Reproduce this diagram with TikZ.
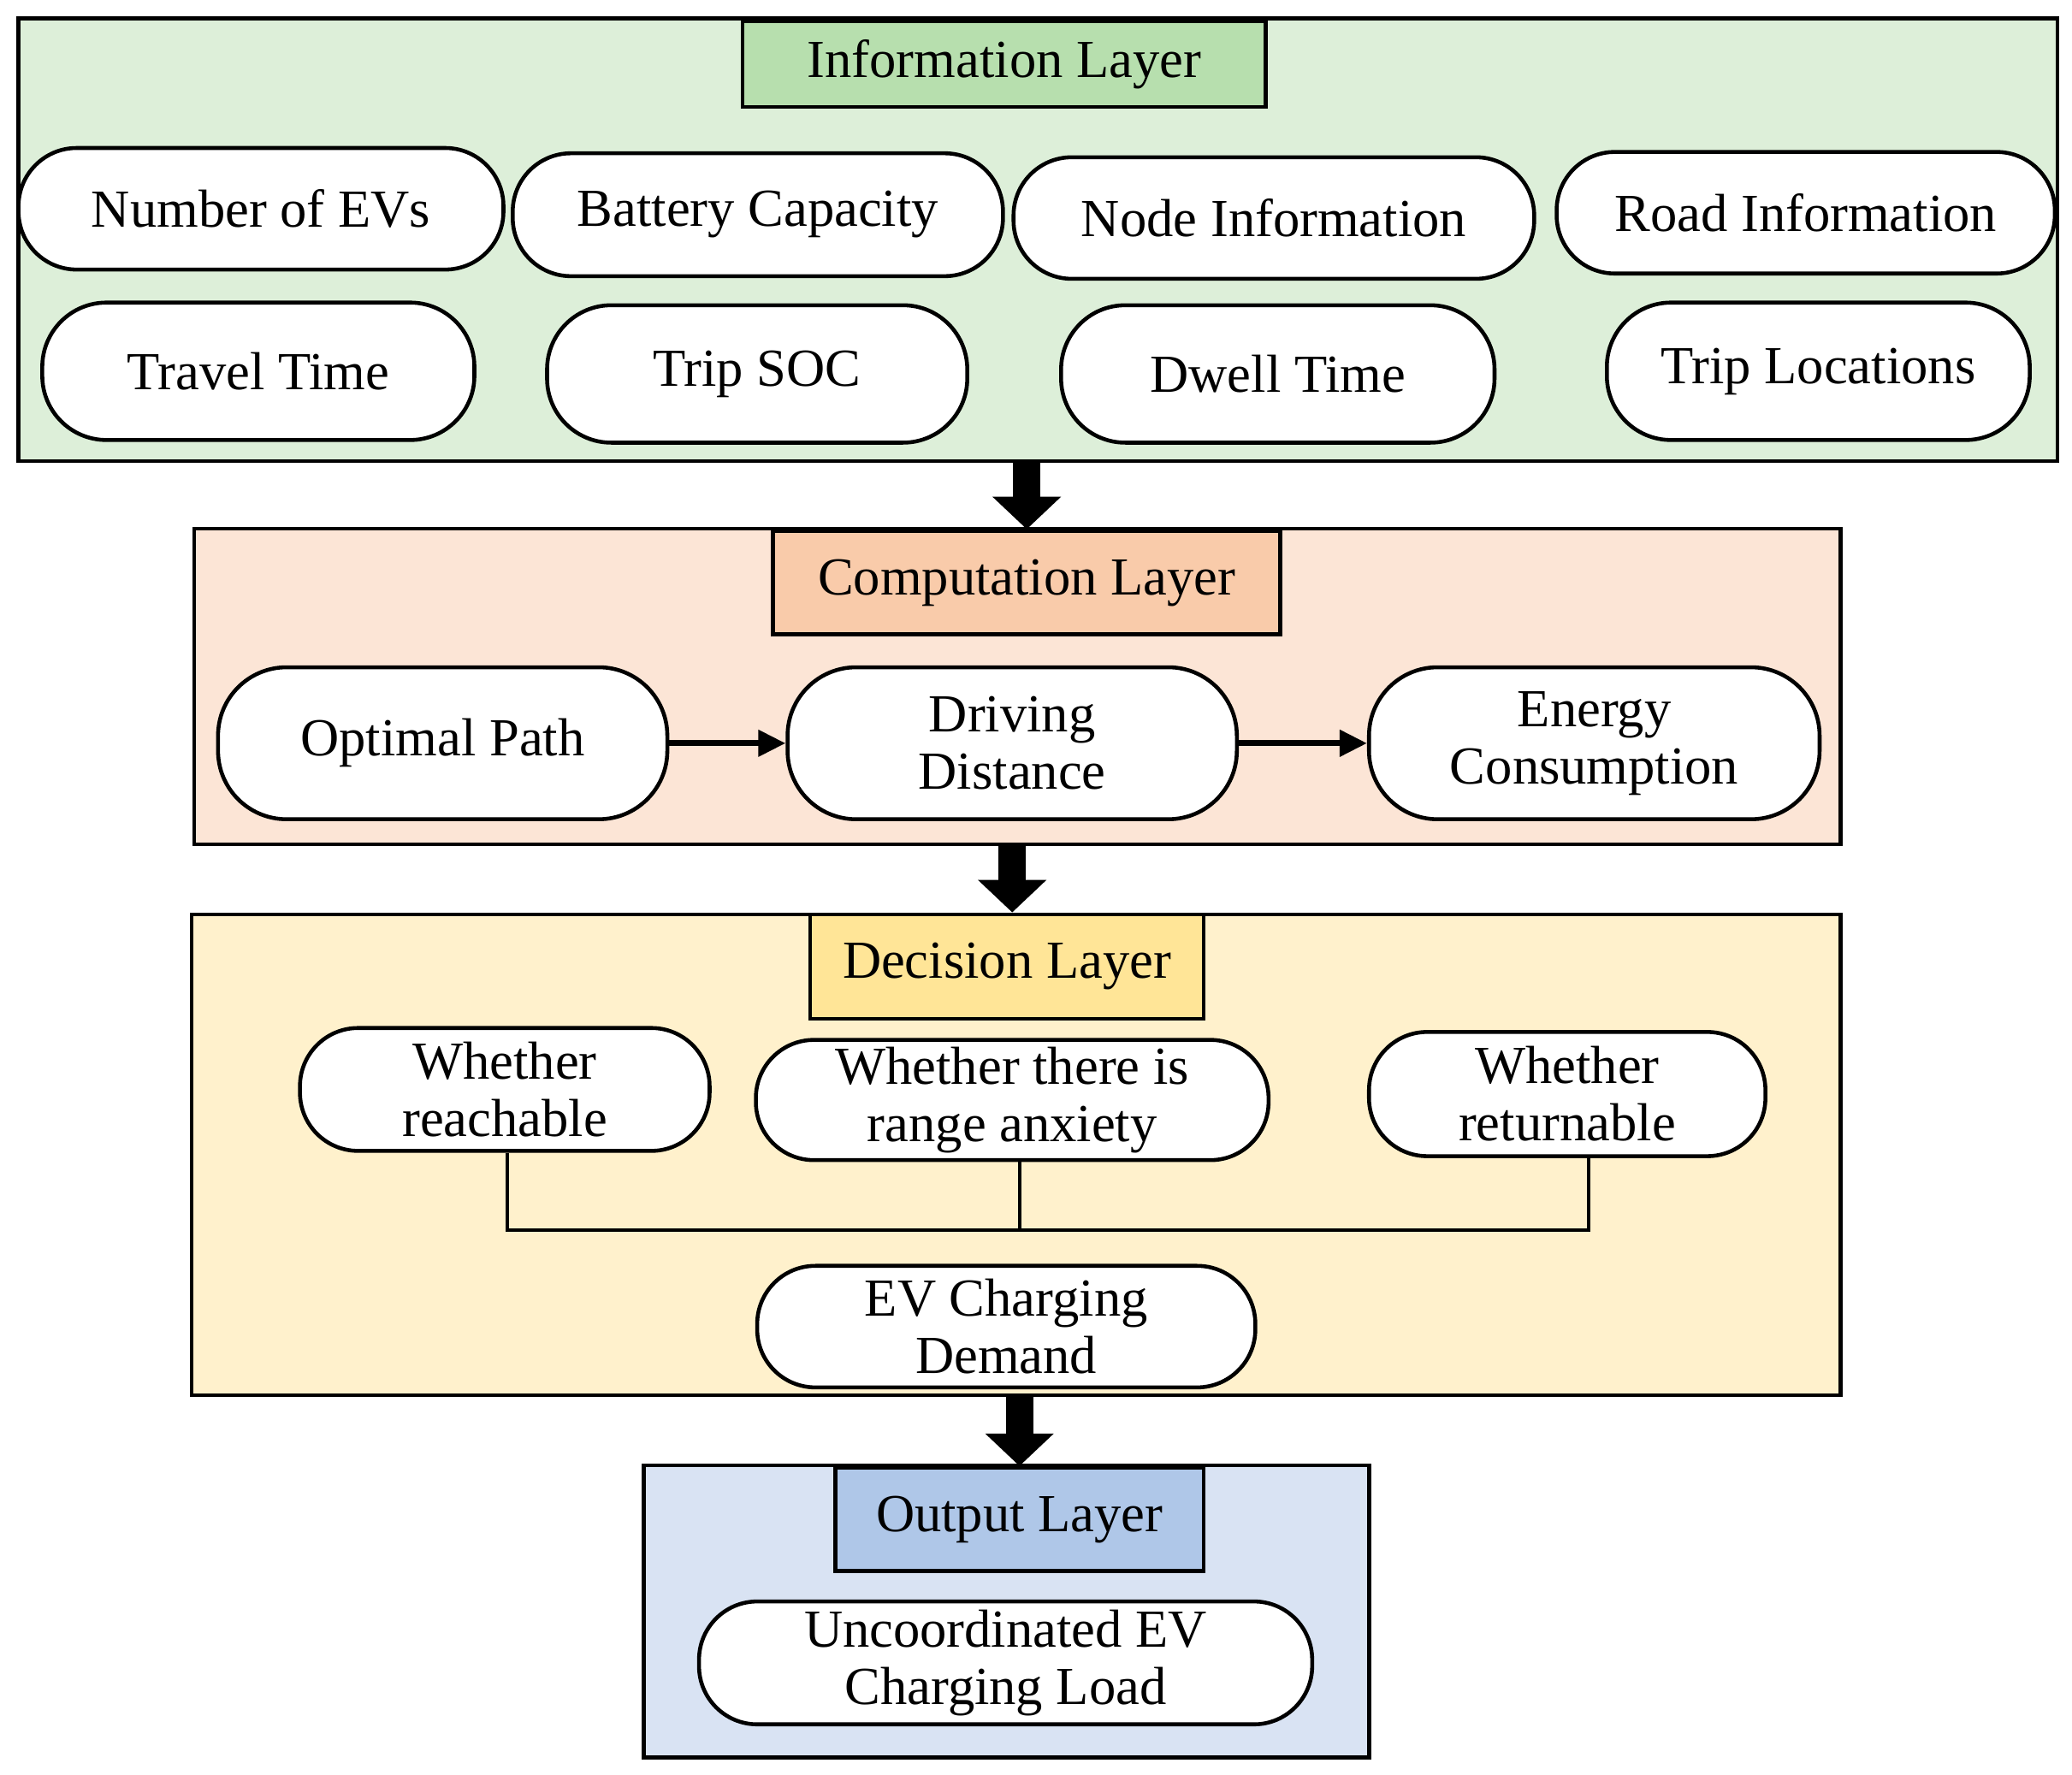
\documentclass[tikz,border=0pt]{standalone}
\IfFileExists{pplr8t.tfm}{%
  \usepackage[T1]{fontenc}\renewcommand\rmdefault{ppl}\def\fsz{16.3}}{%
  \usepackage{fontspec}\setmainfont{Liberation Serif}\def\fsz{17.8}}
\usetikzlibrary{arrows.meta,calc}
\definecolor{infobg}{HTML}{DDEFD9}
\definecolor{infott}{HTML}{B7DFAE}
\definecolor{compbg}{HTML}{FCE5D6}
\definecolor{comptt}{HTML}{F9CBAA}
\definecolor{decbg}{HTML}{FFF1CC}
\definecolor{dectt}{HTML}{FFE597}
\definecolor{outbg}{HTML}{D9E3F3}
\definecolor{outtt}{HTML}{AFC7E8}
\begin{document}
\begin{tikzpicture}[x=0.015446cm,y=-0.015446cm,
  every node/.style={font=\fontsize{\fsz}{19}\selectfont},
  sz/.style 2 args={minimum width=#1*0.015446cm, minimum height=#2*0.015446cm},
  layer/.style={draw=black, line width=1.3pt, inner sep=0pt},
  ttl/.style={draw=black, line width=1.3pt, inner sep=0pt},
  pill/.style={draw=black, fill=white, line width=1.3pt, rounded corners=0.68cm, inner sep=0pt, align=center},
  bigarrow/.style={line width=0.32cm, -{Triangle[width=0.78cm,length=0.38cm]}},
  smallarrow/.style={line width=2pt, -{Triangle[width=0.3cm,length=0.32cm]}},
  link/.style={line width=1.1pt}]
\fill[white] (0,0) rectangle (1568,1343);
\useasboundingbox (0,0) rectangle (1568,1343);

% Information layer
\node[layer, fill=infobg, sz={1543}{335}] (info) at (785.5,181.5) {};
\node[ttl, fill=infott, sz={396}{65}] (infott) at (760,48.5) {Information Layer};
\node[pill, sz={367}{92}] (nev) at (197.5,158) {Number of EVs};
\node[pill, sz={371}{93}] (bat) at (573.5,162.5) {Battery Capacity};
\node[pill, sz={394}{92}] (nodeinfo) at (964,165) {Node Information};
\node[pill, sz={377}{92}] (road) at (1366.5,161) {Road Information};
\node[pill, rounded corners=0.75cm, sz={327}{104}] (travel) at (195.5,281) {Travel Time};
\node[pill, rounded corners=0.75cm, sz={318}{104}] (soc) at (573,283) {Trip SOC};
\node[pill, rounded corners=0.75cm, sz={328}{104}] (dwell) at (967,283) {Dwell Time};
\node[pill, rounded corners=0.75cm, sz={320}{104}] (loc) at (1376,281) {Trip Locations};

% Computation layer
\node[layer, fill=compbg, sz={1246}{239}] (comp) at (770,519.5) {};
\node[ttl, fill=comptt, sz={384}{78}] (comptt) at (777,441) {Computation Layer};
\node[pill, rounded corners=0.8cm, sz={340}{115}] (opt) at (335,562.5) {Optimal Path};
\node[pill, rounded corners=0.8cm, sz={340}{115}] (drv) at (766,562.5) {Driving\\Distance};
\node[pill, rounded corners=0.8cm, sz={341}{115}] (energy) at (1206.5,562.5) {Energy\\Consumption};
\draw[smallarrow] (opt.east) -- (drv.west);
\draw[smallarrow] (drv.east) -- (energy.west);

% Decision layer
\node[layer, fill=decbg, sz={1248}{364}] (dec) at (769,874) {};
\node[ttl, fill=dectt, sz={298}{79}] (dectt) at (762,731.5) {Decision Layer};
\node[pill, sz={310}{93}] (reach) at (382,824.5) {Whether\\reachable};
\node[pill, sz={388}{91}] (anx) at (766,832.5) {Whether there is\\range anxiety};
\node[pill, sz={300}{94}] (ret) at (1186,828) {Whether\\returnable};
\node[pill, sz={377}{92}] (demand) at (761.5,1004) {EV Charging\\Demand};
\coordinate (junc) at (772,931);
\draw[link] ([xshift=0.03cm]reach.south) |- (junc) -| ([xshift=0.25cm]ret.south);
\draw[link] ([xshift=0.09cm]anx.south) -- ([xshift=0.09cm]anx.south |- junc);

% Output layer
\node[layer, fill=outbg, sz={549}{221}] (out) at (761.5,1219.5) {};
\node[ttl, fill=outtt, sz={279}{78}] (outtt) at (771.5,1150) {Output Layer};
\node[pill, sz={464}{93}] (load) at (761,1258.5) {Uncoordinated EV\\Charging Load};

% layer arrows
\draw[bigarrow] (info.south -| comptt.north) -- (comptt.north);
\draw[bigarrow] (comp.south -| drv.south) -- (dec.north -| drv.south);
\draw[bigarrow] (dec.south -| outtt.north) -- (outtt.north);
\end{tikzpicture}
\end{document}
